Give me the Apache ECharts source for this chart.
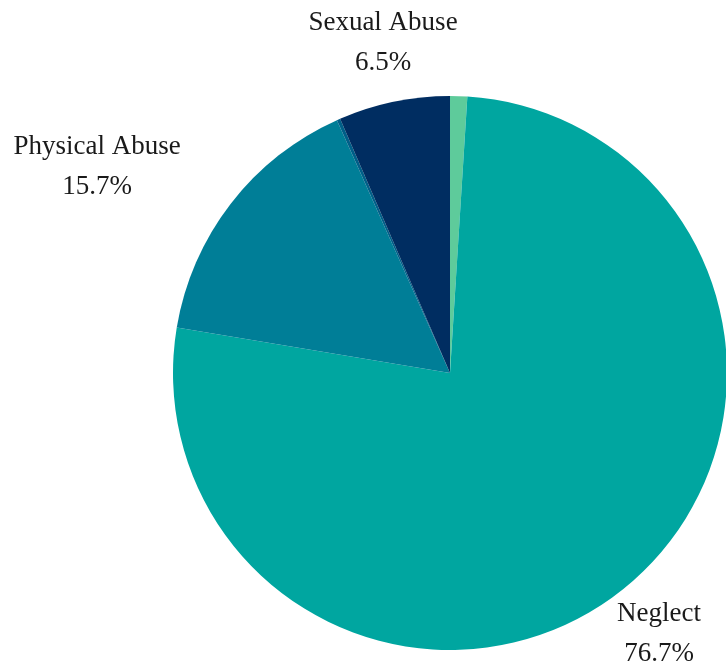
<!DOCTYPE html>
<html>
<head>
<meta charset="utf-8">
<script src="https://cdn.jsdelivr.net/npm/echarts@6/dist/echarts.min.js"></script>
<style>html,body{margin:0;padding:0;background:#fff}#c{width:726px;height:664px}</style>
</head>
<body>
<div id="c"></div>
<script>
const categories = ['Other', 'Neglect', 'Physical Abuse', 'Other Maltreatment', 'Sexual Abuse'];
const values = [1.0, 76.7, 15.7, 0.2, 6.5];
const colors = ['#5ECB9B', '#00A6A0', '#007E97', '#005F88', '#002D61'];
const labelled = ['Neglect', 'Physical Abuse', 'Sexual Abuse'];
const labelPos = {
  'Neglect': [659, 634],
  'Physical Abuse': [97, 167],
  'Sexual Abuse': [383, 43]
};

const chart = echarts.init(document.getElementById('c'));
chart.setOption({
  animation: false,
  series: [{
    type: 'pie',
    center: [450, 373],
    radius: [0, 277],
    startAngle: 90,
    clockwise: true,
    avoidLabelOverlap: false,
    label: {
      show: true,
      position: 'outside',
      formatter: p => labelled.includes(p.name) ? p.name + '\n' + p.value.toFixed(1) + '%' : '',
      fontFamily: 'Liberation Serif',
      fontSize: 27,
      lineHeight: 40,
      color: '#1a1a1a',
      align: 'center'
    },
    labelLine: { show: false },
    labelLayout: function (params) {
      const name = categories[params.dataIndex];
      const pos = labelPos[name];
      if (!pos) return {};
      return { x: pos[0], y: pos[1], align: 'center', verticalAlign: 'middle' };
    },
    itemStyle: { borderWidth: 0 },
    emphasis: { disabled: true },
    data: categories.map((c, i) => ({ name: c, value: values[i], itemStyle: { color: colors[i] } }))
  }]
});
</script>
</body>
</html>
